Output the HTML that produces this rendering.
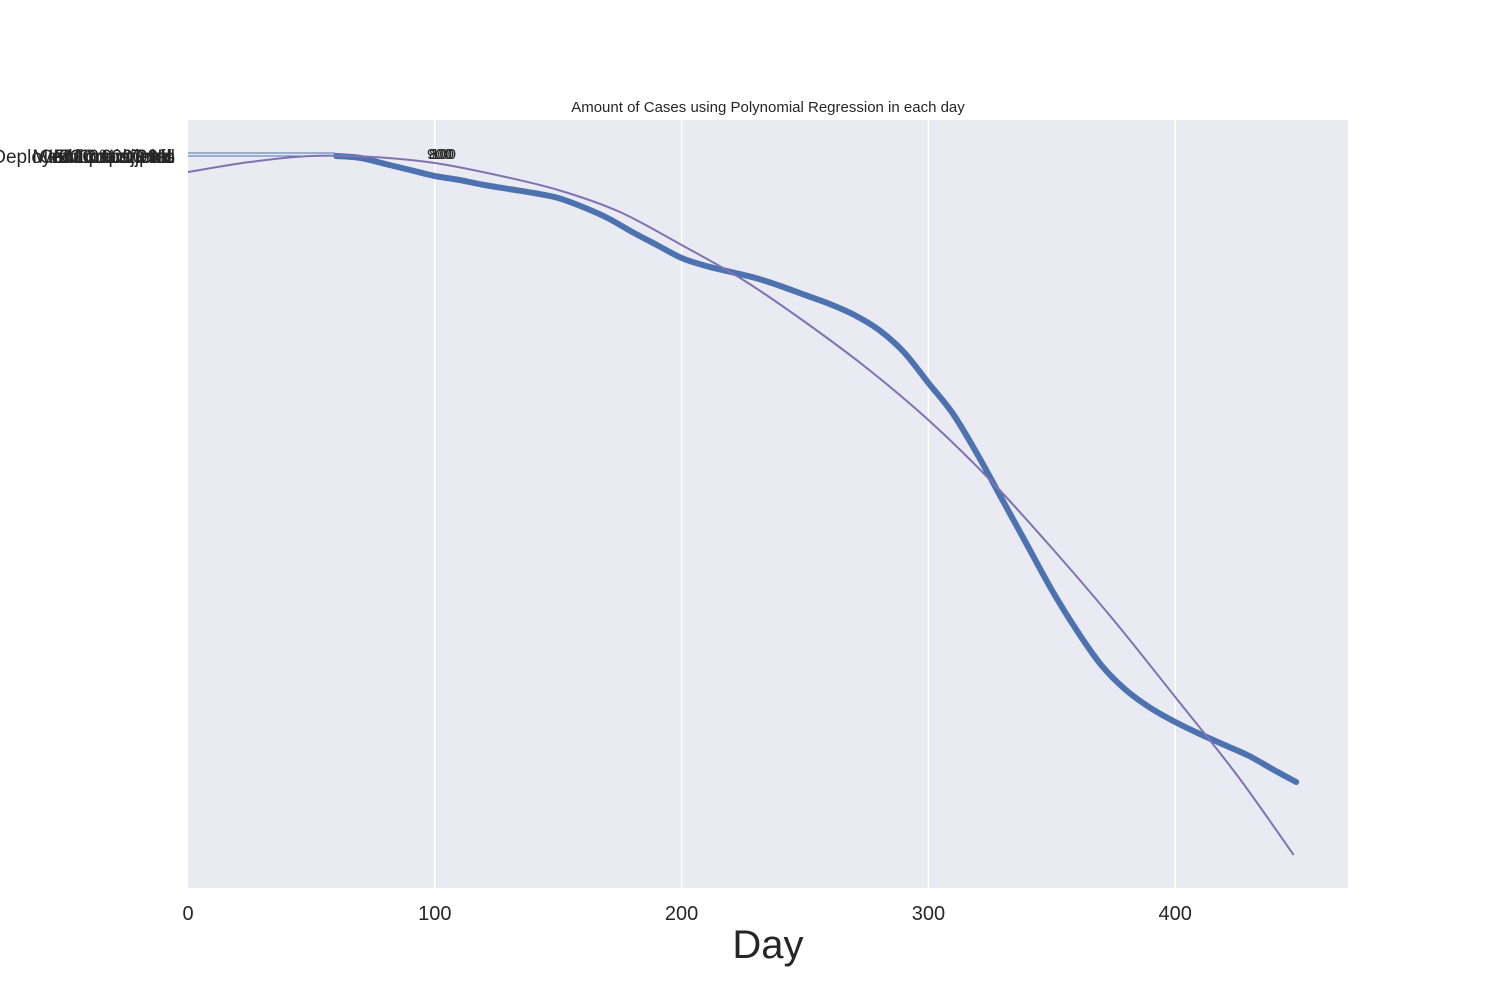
<!DOCTYPE html>
<html><head><meta charset="utf-8">
<style>body{margin:0;background:#fff;}svg{display:block;font-family:"Liberation Sans",Arial,sans-serif;}</style>
</head><body>
<svg id="chart" width="1500" height="1000">
<rect x="188" y="120" width="1160" height="768" fill="#eaeaf2"/>
<g id="grid"></g>
<text x="768" y="112" text-anchor="middle" font-size="15" fill="#262626">Amount of Cases using Polynomial Regression in each day</text>
<text x="768" y="958" text-anchor="middle" font-size="40" fill="#262626">Day</text>
<g font-size="19" fill="#262626" text-anchor="end">
<text x="175" y="163">Deployed Outpatients</text><text x="175" y="163">Mean count 99%</text><text x="172" y="163">Confirmed Total</text><text x="175" y="163">IMC 0% sjjpuiu</text><text x="170" y="163">Outpatient kk</text><text x="175" y="163">EMC 0000 Hill</text>
</g>
<g stroke="#4c72b0" stroke-width="1">
<line x1="188" y1="153" x2="335" y2="153"/><line x1="188" y1="156" x2="335" y2="156"/>
</g>
<g font-size="15" fill="#262626">
<text x="427" y="159">900</text><text x="431" y="159">100</text><text x="429" y="159">800</text>
</g>
<g id="marks"></g>
<g id="xticks"></g>
</svg>
<script>
const xTicks=[0,100,200,300,400];
const obsDays=[60,70,80,90,100,110,120,130,140,150,160,170,180,190,200,210,220,230,240,250,260,270,280,290,300,310,320,330,340,350,360,370,380,390,400,410,420,430,440,449];
const obsCases=[732,730,724,718,712,708,703,699,695,690,681,670,656,643,630,622,616,610,602,593,584,573,558,536,505,474,433,388,343,298,258,223,198,180,166,154,143,132,118,106];
const fitDays=[0,25,50,75,100,125,150,175,200,225,250,275,300,325,350,375,400,425,448];
const fitCases=[716,726,732,731,725,713,698,676,643,608,566,520,468,408,340,268,191,113,33];
const x=d=>188+d*(1160/470);
const y=v=>888-v;
const NS="http://www.w3.org/2000/svg";
const grid=document.getElementById('grid'),xt=document.getElementById('xticks'),marks=document.getElementById('marks');
function smooth(pts){let d='M'+pts[0][0]+','+pts[0][1];
 for(let i=0;i<pts.length-1;i++){const p0=pts[i-1]||pts[i],p1=pts[i],p2=pts[i+1],p3=pts[i+2]||p2;
 d+=' C'+(p1[0]+(p2[0]-p0[0])/6)+','+(p1[1]+(p2[1]-p0[1])/6)+' '+(p2[0]-(p3[0]-p1[0])/6)+','+(p2[1]-(p3[1]-p1[1])/6)+' '+p2[0]+','+p2[1];}
 return d;}
xTicks.forEach(t=>{
 if(t>0){const l=document.createElementNS(NS,'line');
 l.setAttribute('x1',x(t));l.setAttribute('x2',x(t));l.setAttribute('y1',120);l.setAttribute('y2',888);
 l.setAttribute('stroke','#fff');l.setAttribute('stroke-width','1.5');
 
 
 grid.appendChild(l);}
 const tx=document.createElementNS(NS,'text');
 tx.setAttribute('x',x(t));tx.setAttribute('y',920);tx.setAttribute('text-anchor','middle');tx.setAttribute('font-size','20');tx.setAttribute('fill','#262626');
 tx.textContent=t;
 
 
 xt.appendChild(tx);
});
const obs=document.createElementNS(NS,'path');
obs.setAttribute('d',smooth(obsDays.map((d,i)=>[x(d),y(obsCases[i])])));
obs.setAttribute('fill','none');obs.setAttribute('stroke','#4c72b0');obs.setAttribute('stroke-width','6');obs.setAttribute('stroke-linecap','round');


marks.appendChild(obs);
const fit=document.createElementNS(NS,'path');
fit.setAttribute('d',smooth(fitDays.map((d,i)=>[x(d),y(fitCases[i])])));
fit.setAttribute('fill','none');fit.setAttribute('stroke','#8172b3');fit.setAttribute('stroke-width','2');


marks.appendChild(fit);
</script>
</body></html>
